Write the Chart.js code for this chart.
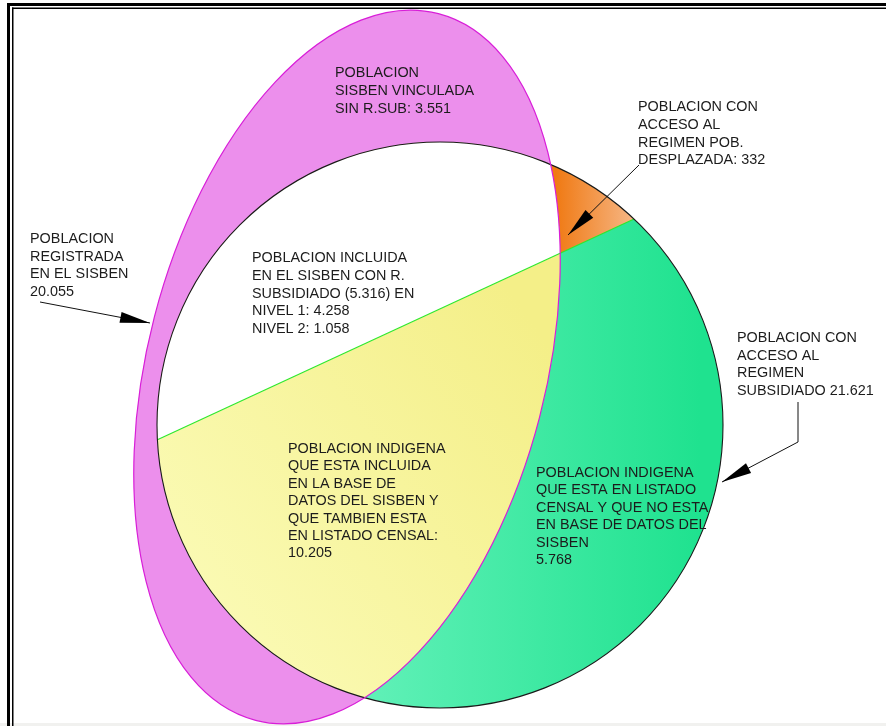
<!DOCTYPE html>
<html>
<head>
<meta charset="utf-8">
<title>Poblacion Sisben</title>
<script src="https://cdn.jsdelivr.net/npm/chart.js@4.4.0/dist/chart.umd.min.js"></script>
<style>
  body { margin: 0; background: #ffffff; }
  #chartDemo { display: block; }
</style>
</head>
<body>
<canvas id="chartDemo" width="886" height="726"></canvas>
<script>
'use strict';

// region values
let regionNames = ['vinculada', 'desplazada', 'registrada', 'subsidiado', 'nivel1', 'nivel2', 'indigenaSisben', 'indigenaNoSisben', 'accesoSubsidiado'];
let regionValues = [3551, 332, 20055, 5316, 4258, 1058, 10205, 5768, 21621];

// label text, {0} {1}... get replaced with the formatted values above
let labelLines = [
  ['POBLACION', 'SISBEN VINCULADA', 'SIN R.SUB: {0}'],
  ['POBLACION CON', 'ACCESO AL', 'REGIMEN POB.', 'DESPLAZADA: {1}'],
  ['POBLACION', 'REGISTRADA', 'EN EL SISBEN', '{2}'],
  ['POBLACION INCLUIDA', 'EN EL SISBEN CON R.', 'SUBSIDIADO ({3}) EN', 'NIVEL 1: {4}', 'NIVEL 2: {5}'],
  ['POBLACION INDIGENA', 'QUE ESTA INCLUIDA', 'EN LA BASE DE', 'DATOS DEL SISBEN Y', 'QUE TAMBIEN ESTA', 'EN LISTADO CENSAL:', '{6}'],
  ['POBLACION INDIGENA', 'QUE ESTA EN LISTADO', 'CENSAL Y QUE NO ESTA', 'EN BASE DE DATOS DEL', 'SISBEN', '{7}'],
  ['POBLACION CON', 'ACCESO AL', 'REGIMEN', 'SUBSIDIADO {8}'],
];
let labelX = [335, 638, 30, 252, 288, 536, 737];
let labelY = [77, 111, 243, 262, 453, 477, 342];
let lineGap = [18, 17.8, 17.5, 17.8, 17.4, 17.4, 17.5];

// shapes (in the same units as the axes)
let circleCenter = [440, 425];
let circleRadius = 283;
let ellipseCenter = [347, 367];
let ellipseRadii = [365, 199];
let ellipseAngle = 104.5;
let chordAngles = [177, -46.7];

// leader arrows: list of points, last one is the tip
let arrows = [
  [[40, 302], [150, 323]],
  [[639, 165], [568, 235]],
  [[798, 402], [798, 442], [722, 482]],
];

function fmt(n) {
  return n.toString().replace(/\B(?=(\d{3})+(?!\d))/g, '.');
}

function fillText(line) {
  return line.replace(/\{(\d+)\}/g, function (m, i) {
    return fmt(regionValues[Number(i)]);
  });
}

let vennPlugin = {
  id: 'venn',
  beforeDatasetsDraw(chart) {
    const ctx = chart.ctx;
    const xs = chart.scales.x;
    const ys = chart.scales.y;
    const px = (v) => xs.getPixelForValue(v);
    const py = (v) => ys.getPixelForValue(v);
    const unit = Math.abs(px(1) - px(0));

    const cx = px(circleCenter[0]);
    const cy = py(circleCenter[1]);
    const r = circleRadius * unit;
    const ex = px(ellipseCenter[0]);
    const ey = py(ellipseCenter[1]);
    const rot = ellipseAngle * Math.PI / 180;

    function circlePath() {
      ctx.beginPath();
      ctx.arc(cx, cy, r, 0, Math.PI * 2);
    }
    function ellipsePath() {
      ctx.beginPath();
      ctx.ellipse(ex, ey, ellipseRadii[0] * unit, ellipseRadii[1] * unit, rot, 0, Math.PI * 2);
    }

    // chord end points on the circle
    let a1 = chordAngles[0] * Math.PI / 180;
    let a2 = chordAngles[1] * Math.PI / 180;
    let p1 = [cx + r * Math.cos(a1), cy + r * Math.sin(a1)];
    let p2 = [cx + r * Math.cos(a2), cy + r * Math.sin(a2)];
    let dx = p2[0] - p1[0];
    let dy = p2[1] - p1[1];
    function upperSide() {
      ctx.beginPath();
      ctx.moveTo(p1[0] - dx * 3, p1[1] - dy * 3);
      ctx.lineTo(p2[0] + dx * 3, p2[1] + dy * 3);
      ctx.lineTo(p2[0] + dx * 3, -3000);
      ctx.lineTo(p1[0] - dx * 3, -3000);
      ctx.closePath();
    }

    ctx.save();

    // page edge at the bottom
    ctx.fillStyle = '#f1f1ef';
    ctx.fillRect(0, py(723), chart.width, chart.height);

    // sisben ellipse
    ellipsePath();
    ctx.fillStyle = '#ec8fec';
    ctx.fill();

    // circle parts
    ctx.save();
    circlePath();
    ctx.clip();

    let green = ctx.createLinearGradient(px(380), 0, px(700), 0);
    green.addColorStop(0, '#5ef0b6');
    green.addColorStop(1, '#1fe28f');
    ctx.fillStyle = green;
    ctx.fillRect(0, 0, chart.width, chart.height);

    let orange = ctx.createLinearGradient(px(556), 0, px(636), 0);
    orange.addColorStop(0, '#f07a14');
    orange.addColorStop(1, '#f6b888');
    upperSide();
    ctx.fillStyle = orange;
    ctx.fill();

    ellipsePath();
    ctx.clip();
    let yellow = ctx.createLinearGradient(px(170), py(640), px(560), py(360));
    yellow.addColorStop(0, '#fbfbb8');
    yellow.addColorStop(1, '#f4ef88');
    ctx.fillStyle = yellow;
    ctx.fillRect(0, 0, chart.width, chart.height);
    upperSide();
    ctx.fillStyle = '#ffffff';
    ctx.fill();
    ctx.restore();

    // chord
    ctx.beginPath();
    ctx.moveTo(p1[0], p1[1]);
    ctx.lineTo(p2[0], p2[1]);
    ctx.strokeStyle = '#2ee82e';
    ctx.lineWidth = 1.2;
    ctx.stroke();

    // outlines
    circlePath();
    ctx.strokeStyle = '#1a1a1a';
    ctx.lineWidth = 1.1;
    ctx.stroke();
    ellipsePath();
    ctx.strokeStyle = '#d81ed8';
    ctx.lineWidth = 1.2;
    ctx.stroke();

    // arrows
    ctx.strokeStyle = '#111111';
    ctx.fillStyle = '#000000';
    ctx.lineWidth = 1;
    arrows.forEach(function (pts) {
      ctx.beginPath();
      pts.forEach(function (p, i) {
        if (i === 0) {
          ctx.moveTo(px(p[0]), py(p[1]));
        } else {
          ctx.lineTo(px(p[0]), py(p[1]));
        }
      });
      ctx.stroke();
      let tip = pts[pts.length - 1];
      let prev = pts[pts.length - 2];
      let tx = px(tip[0]);
      let ty = py(tip[1]);
      let ang = Math.atan2(ty - py(prev[1]), tx - px(prev[0]));
      let len = 30;
      let half = 5.5;
      let bx = tx - Math.cos(ang) * len;
      let by = ty - Math.sin(ang) * len;
      ctx.beginPath();
      ctx.moveTo(tx, ty);
      ctx.lineTo(bx - Math.sin(ang) * half, by + Math.cos(ang) * half);
      ctx.lineTo(bx + Math.sin(ang) * half, by - Math.cos(ang) * half);
      ctx.closePath();
      ctx.fill();
    });

    // labels
    ctx.fillStyle = '#1c1c1c';
    ctx.font = '14.4px "Liberation Sans", Arial, sans-serif';
    ctx.textBaseline = 'alphabetic';
    ctx.textAlign = 'left';
    labelLines.forEach(function (lines, k) {
      lines.forEach(function (line, i) {
        ctx.fillText(fillText(line), px(labelX[k]), py(labelY[k] + i * lineGap[k]));
      });
    });

    // double frame
    ctx.fillStyle = '#000000';
    ctx.fillRect(px(7), py(3), chart.width, 3);
    ctx.fillRect(px(7), py(3), 3, chart.height);
    ctx.fillRect(px(12), py(7.5), chart.width, 1.5);
    ctx.fillRect(px(12), py(7.5), 1.5, chart.height);

    ctx.restore();
  }
};

const ctx = document.getElementById('chartDemo');

new Chart(ctx, {
  type: 'scatter',
  data: {
    datasets: [
      {
        label: 'anchors',
        data: labelX.map(function (x, i) { return { x: x, y: labelY[i] }; }),
        pointRadius: 0,
        showLine: false,
      },
    ],
  },
  options: {
    responsive: false,
    animation: false,
    devicePixelRatio: 1,
    layout: { padding: 0 },
    plugins: {
      legend: { display: false },
      tooltip: { enabled: false },
    },
    scales: {
      x: { type: 'linear', min: 0, max: 886, display: false },
      y: { type: 'linear', min: 0, max: 726, reverse: true, display: false },
    },
  },
  plugins: [vennPlugin],
});
</script>
</body>
</html>
